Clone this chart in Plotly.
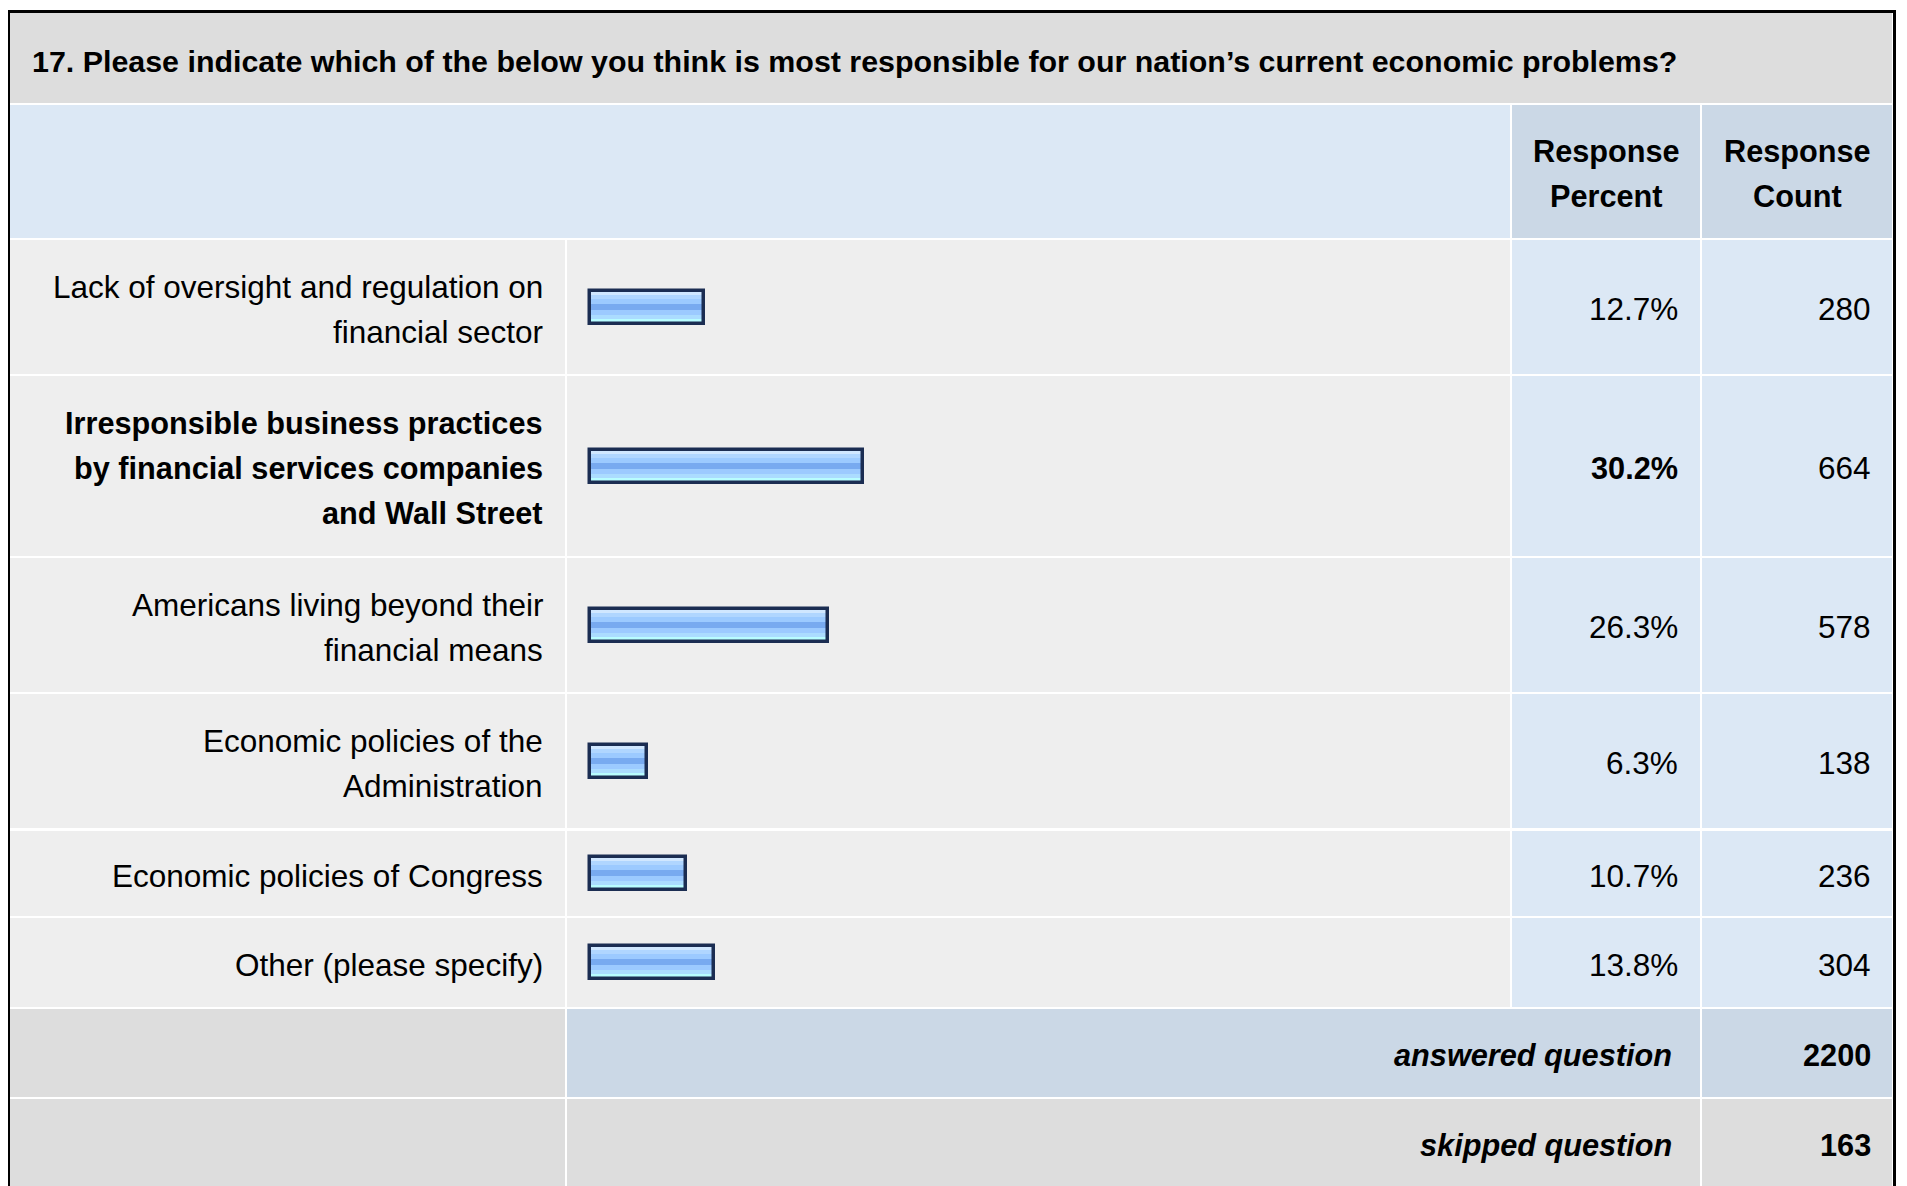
import plotly.graph_objects as go

# ---------------- data ----------------
title_text = "17. Please indicate which of the below you think is most responsible for our nation\u2019s current economic problems?"
categories = [
    "Lack of oversight and regulation on<br>financial sector",
    "Irresponsible business practices<br>by financial services companies<br>and Wall Street",
    "Americans living beyond their<br>financial means",
    "Economic policies of the<br>Administration",
    "Economic policies of Congress",
    "Other (please specify)",
]
percents = [12.7, 30.2, 26.3, 6.3, 10.7, 13.8]
counts = [280, 664, 578, 138, 236, 304]
header_percent = "Response<br>Percent"
header_count = "Response<br>Count"
answered_label = "answered question"
answered_count = 2200
skipped_label = "skipped question"
skipped_count = 163

# ---------------- layout constants (page pixels) ----------------
OFF = 8                      # default body margin of the html page
W, H = 1907 - OFF, 1186 - OFF
FONT = "Liberation Sans, Arial, Helvetica, sans-serif"
FS = 31.5
FS_BOLD = 30.7
LINE = 45

col_label = (10, 565)
col_bar = (567, 1510)
col_pct = (1512, 1700)
col_cnt = (1702, 1892)

title_row = (13, 103)
header_row = (105, 238)
data_rows = [(240, 374), (376, 556), (558, 692), (694, 828), (831, 916), (918, 1007)]
answered_row = (1009, 1097)
skipped_row = (1099, 1200)

BAR_X0 = 589.5      # page pixel where 0 % sits
PX_PER_PCT = 9.05
BAR_H = 33

C_TITLE = "#dddddd"
C_HEAD = "#dce8f5"
C_HEAD_DARK = "#cbd8e6"
C_ROW = "#eeeeee"
C_ROW_VAL = "#dce8f5"
C_FOOT = "#dddddd"


def px(x):
    return (x - OFF) / W


def py(y):
    return y - OFF


shapes = []


def rect(xr, yr, color):
    shapes.append(dict(type="rect", xref="paper", yref="y", x0=px(xr[0]), x1=px(xr[1]),
                       y0=py(yr[0]), y1=py(yr[1]), fillcolor=color, line=dict(width=0),
                       layer="below"))


# outer border
rect((7, 10), (10, 1300), "black")
rect((1893, 1896), (10, 1300), "black")
rect((7, 1896), (10, 13), "black")

rect((col_label[0], col_cnt[1]), title_row, C_TITLE)
rect((col_label[0], col_bar[1]), header_row, C_HEAD)
rect(col_pct, header_row, C_HEAD_DARK)
rect(col_cnt, header_row, C_HEAD_DARK)
for r in data_rows:
    rect(col_label, r, C_ROW)
    rect(col_bar, r, C_ROW)
    rect(col_pct, r, C_ROW_VAL)
    rect(col_cnt, r, C_ROW_VAL)
rect(col_label, answered_row, C_FOOT)
rect((col_bar[0], col_pct[1]), answered_row, C_HEAD_DARK)
rect(col_cnt, answered_row, C_HEAD_DARK)
rect(col_label, skipped_row, C_FOOT)
rect((col_bar[0], col_pct[1]), skipped_row, C_FOOT)
rect(col_cnt, skipped_row, C_FOOT)

row_centers = [py((a + b) / 2) for a, b in data_rows]
top_idx = max(range(len(percents)), key=lambda i: percents[i])

fig = go.Figure()

# gradient stripes of the bars (top -> bottom within bar)
stripes = [(0, 4, "#d0e7ff"), (4, 8, "#b0d6ff"), (8, 13, "#9ccaff"), (13, 19, "#78aaf0"),
           (19, 24, "#9ccaff"), (24, 28, "#abdcff"), (28, 33, "#b8fdff")]
for s0, s1, col in stripes:
    fig.add_trace(go.Bar(orientation="h", x=percents, y=row_centers, base=0,
                         width=s1 - s0, offset=-BAR_H / 2 + s0,
                         marker=dict(color=col, line=dict(width=0)),
                         hoverinfo="skip", showlegend=False))
# outline
fig.add_trace(go.Bar(orientation="h", x=percents, y=row_centers, base=0,
                     width=BAR_H, offset=-BAR_H / 2,
                     marker=dict(color="rgba(0,0,0,0)", line=dict(color="#1b2d52", width=3.5)),
                     hovertemplate="%{x}%<extra></extra>", showlegend=False))

annotations = []


def text(x, y, s, anchor="right", size=FS):
    annotations.append(dict(xref="paper", yref="y", x=px(x), y=py(y), text=s, showarrow=False,
                            xanchor=anchor, yanchor="middle",
                            font=dict(family=FONT, size=size, color="black")))


text(30, 61, "<b>" + title_text + "</b>", anchor="left", size=30.4)

for hdr, col in ((header_percent, col_pct), (header_count, col_cnt)):
    lines = hdr.split("<br>")
    cx = (col[0] + col[1]) / 2
    for i, ln in enumerate(lines):
        y = (header_row[0] + header_row[1]) / 2 + (i - (len(lines) - 1) / 2) * LINE + 2
        text(cx, y, "<b>" + ln + "</b>", anchor="center", size=FS_BOLD)

for i, (cat, p, c) in enumerate(zip(categories, percents, counts)):
    yc = (data_rows[i][0] + data_rows[i][1]) / 2 + 2
    lines = cat.split("<br>")
    bold = i == top_idx
    for j, ln in enumerate(lines):
        y = yc + (j - (len(lines) - 1) / 2) * LINE
        if bold:
            text(col_label[1] - 20, y, "<b>%s</b>" % ln, size=FS_BOLD)
        else:
            text(col_label[1] - 20, y, ln)
    ptxt = f"{p:.1f}%"
    if bold:
        text(col_pct[1] - 20, yc, "<b>%s</b>" % ptxt, size=FS_BOLD)
    else:
        text(col_pct[1] - 20, yc, ptxt)
    text(col_cnt[1] - 19, yc, str(c))

ya = (answered_row[0] + answered_row[1]) / 2 + 2
text(col_pct[1] - 26, ya, "<b><i>" + answered_label + "</i></b>", size=FS_BOLD)
text(col_cnt[1] - 19, ya, "<b>%d</b>" % answered_count, size=FS_BOLD)
ys = (skipped_row[0] + 1187) / 2 + 2
text(col_pct[1] - 26, ys, "<b><i>" + skipped_label + "</i></b>", size=FS_BOLD)
text(col_cnt[1] - 19, ys, "<b>%d</b>" % skipped_count, size=FS_BOLD)

fig.update_layout(
    width=W, height=H, margin=dict(l=0, r=0, t=0, b=0),
    paper_bgcolor="white", plot_bgcolor="rgba(0,0,0,0)",
    barmode="overlay", bargap=0,
    xaxis=dict(range=[-(BAR_X0 - OFF) / PX_PER_PCT, (W - (BAR_X0 - OFF)) / PX_PER_PCT],
               visible=False, fixedrange=True),
    yaxis=dict(range=[H, 0], visible=False, fixedrange=True),
    shapes=shapes, annotations=annotations, showlegend=False,
)

fig.write_html("out.html")
